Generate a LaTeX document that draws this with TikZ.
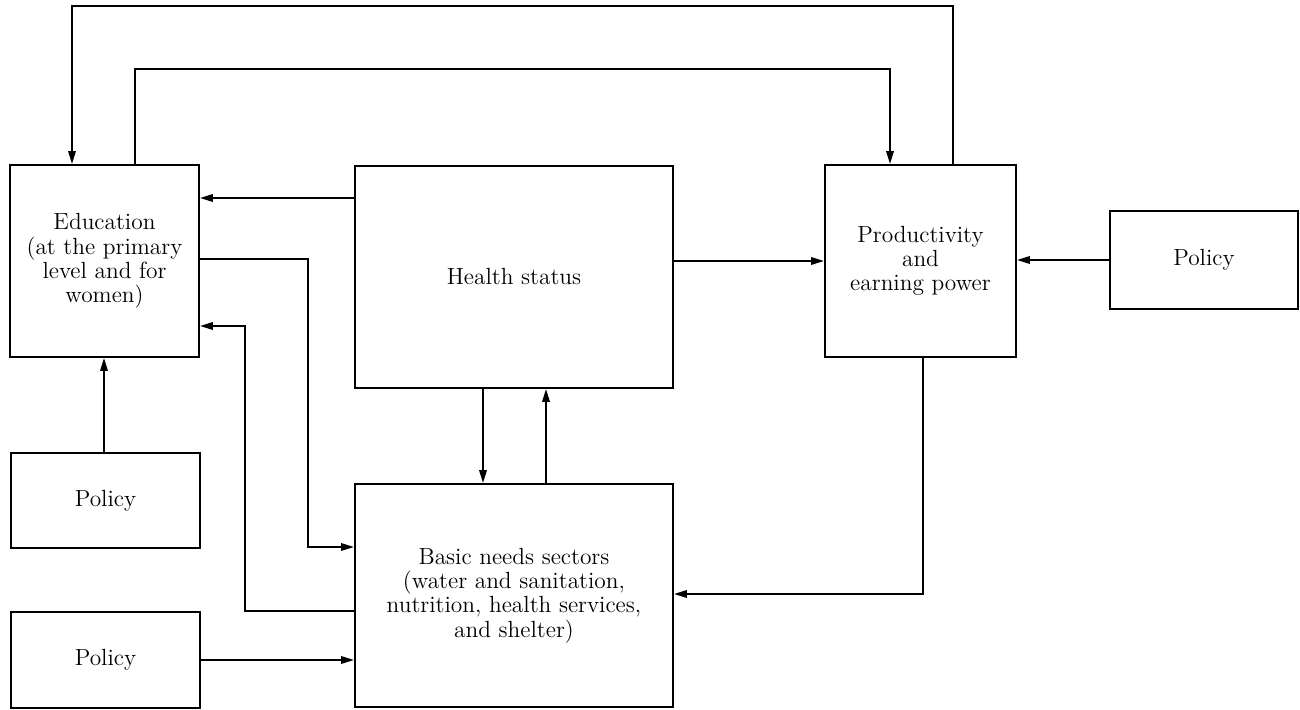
\documentclass[tikz,border=0pt]{standalone}
\usetikzlibrary{arrows.meta}

\tikzset{
  block/.style={draw, line width=1.1pt, align=center, inner sep=0pt,
    font=\fontsize{13.3}{13.8}\selectfont},
  arr/.style={line width=1.1pt, -{Triangle[length=2.6mm,width=1.5mm]}},
  ln/.style={line width=1.1pt}
}

\begin{document}
\begin{tikzpicture}[x=0.2mm, y=-0.2mm]
	\useasboundingbox (0,0) rectangle (1300,710);

	\node[block, minimum width=37.8mm, minimum height=38.4mm] (edu) at (104.5,261)
		{Education\\(at the primary\\level and for\\women)};
	\node[block, minimum width=63.6mm, minimum height=44.4mm] (health) at (514,277)
		{Health status};
	\node[block, minimum width=38.2mm, minimum height=38.4mm] (prod) at (920.5,261)
		{Productivity\\and\\earning power};
	\node[block, minimum width=37.6mm, minimum height=19.6mm] (polR) at (1204,260)
		{Policy};
	\node[block, minimum width=37.8mm, minimum height=19mm] (polU) at (105.5,500.5)
		{Policy};
	\node[block, minimum width=37.8mm, minimum height=19.2mm] (polL) at (105.5,660)
		{Policy};
	\node[block, minimum width=63.6mm, minimum height=44.6mm] (basic) at (514,595.5)
		{Basic needs sectors\\(water and sanitation,\\nutrition, health services,\\and shelter)};

	% loops over the top
	\draw[arr] (prod.north -| 953,0) -- (953,6) -- (72,6) -- (edu.north -| 72,0);
	\draw[arr] (edu.north -| 135,0) -- (135,69) -- (890,69) -- (prod.north -| 890,0);

	\draw[arr] (health.west |- 0,198) -- (edu.east |- 0,198);
	\draw[arr] (health.east |- 0,261) -- (prod.west |- 0,261);
	\draw[arr] (polR.west |- 0,260) -- (prod.east |- 0,260);

	\draw[arr] (edu.east |- 0,259) -- (308,259) -- (308,547) -- (basic.west |- 0,547);
	\draw[arr] (basic.west |- 0,611) -- (245,611) -- (245,326) -- (edu.east |- 0,326);
	\draw[arr] (polL.east |- 0,660) -- (basic.west |- 0,660);
	\draw[arr] (polU.north -| 104,0) -- (edu.south -| 104,0);

	\draw[arr] (health.south -| 483,0) -- (basic.north -| 483,0);
	\draw[arr] (basic.north -| 546,0) -- (health.south -| 546,0);

	\draw[arr] (prod.south -| 923,0) -- (923,594) -- (basic.east |- 0,594);
\end{tikzpicture}
\end{document}
